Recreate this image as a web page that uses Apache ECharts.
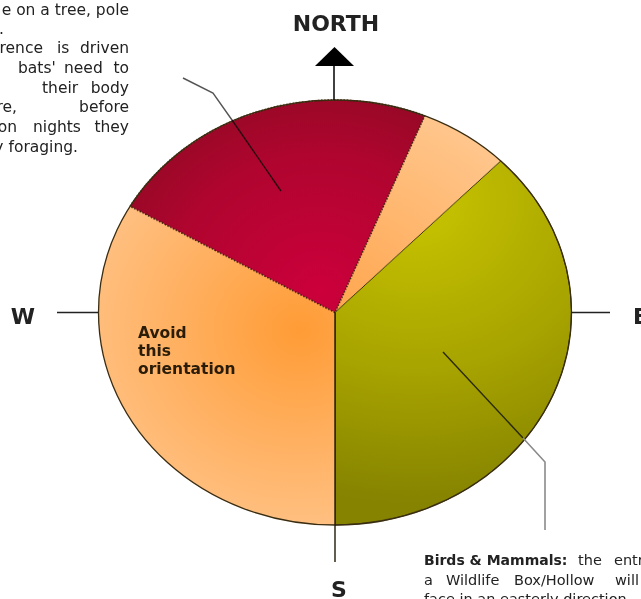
<!DOCTYPE html>
<html><head><meta charset="utf-8">
<script src="https://cdn.jsdelivr.net/npm/echarts@6/dist/echarts.min.js"></script>
<style>
html,body{margin:0;padding:0;background:#fff;overflow:hidden}
#wrap{position:relative;width:641px;height:599px;overflow:hidden}
#pie,#overlay{position:absolute;left:0;top:0;width:641px;height:599px}
#pie{transform-origin:0 312.5px;transform:scaleY(0.8985)}
</style></head>
<body><div id="wrap"><div id="pie"></div><div id="overlay"></div></div>
<script>
// Sectors of the compass (degrees of arc, clockwise from NNE boundary)
const sectorNames = ['NNE', 'East', 'South-West', 'North-West'];
const sectorDegrees = [22.2, 135.5, 120, 82.3];
const compassLabels = ['NORTH', 'E', 'S', 'W'];
const avoidText = 'Avoid\nthis\norientation';
const batNoteWords = [
  ['e on a tree, pole'],
  ['.'],
  ['rence', 'is', 'driven'],
  ["bats'", 'need', 'to'],
  ['their', 'body'],
  ['re,', 'before'],
  ['on', 'nights', 'they'],
  ['y foraging.']
];
const birdNoteLines = [
  ['Birds & Mammals:', 'the', 'entrance'],
  ['a', 'Wildlife', 'Box/Hollow', 'will'],
  ['face in an easterly direction']
];

const CX = 335, CY = 312.5, R = 236.5, RY = 212.5;
const SY = RY / R;
const py = y => CY + (y - CY) / SY; // screen y -> pie space y

const colors = [
  {type:'radial', x:CX, y:CY, r:R, global:true,
   colorStops:[{offset:0,color:'#ffa64e'},{offset:1,color:'#ffc68c'}]},
  {type:'radial', x:415, y:py(200), r:340, global:true,
   colorStops:[{offset:0,color:'#c9c500'},{offset:0.55,color:'#a8a400'},{offset:1,color:'#858300'}]},
  {type:'radial', x:300, y:py(330), r:250, global:true,
   colorStops:[{offset:0,color:'#ff9c36'},{offset:1,color:'#ffc58c'}]},
  {type:'radial', x:320, y:py(290), r:250, global:true,
   colorStops:[{offset:0,color:'#cc003c'},{offset:0.6,color:'#b0052f'},{offset:1,color:'#8e0a23'}]}
];
const borders = [
  {borderWidth:0},
  {borderWidth:1, borderColor:'#2e2a08', borderType:'solid'},
  {borderWidth:0},
  {borderWidth:1.6, borderColor:'#3c2208', borderType:'dotted'}
];

const pie = echarts.init(document.getElementById('pie'));
pie.setOption({
  animation:false,
  series:[{
    type:'pie', center:[CX, CY], radius:R, startAngle:90 - 22.3, clockwise:true,
    silent:true, label:{show:false}, labelLine:{show:false},
    data: sectorNames.map((n,i)=>({name:n, value:sectorDegrees[i],
      itemStyle:Object.assign({color:colors[i]}, borders[i])}))
  }]
});

const ov = echarts.init(document.getElementById('overlay'), null, {renderer:'svg'});
const g = [];
const line = (pts, color, w) => g.push({type:'polyline', shape:{points:pts}, style:{stroke:color, lineWidth:w||1.3, fill:null}, silent:true});
const txt = (s, x, y, font, align, color, extra) => g.push({type:'text', x, y, silent:true,
  style:Object.assign({text:s, font, align:align||'left', verticalAlign:'middle', fill:color||'#1e1e1e'}, extra||{})});

// pie outline
g.push({type:'ellipse', shape:{cx:CX, cy:CY, rx:R, ry:RY}, style:{fill:null, stroke:'#3a2c10', lineWidth:1.3}, silent:true});
// compass lines
line([[334, 100], [334, 65]], '#111', 1.6);
g.push({type:'polygon', shape:{points:[[315,66],[354,66],[334.5,47]]}, style:{fill:'#000'}, silent:true});
line([[57, 312.5], [98, 312.5]], '#222', 1.4);
line([[571, 312.5], [610, 312.5]], '#222', 1.4);
line([[335, 312.5], [335, 562]], '#1e1a08', 1.4);
// leader lines
line([[183, 78], [213, 93], [232, 120]], '#555', 1.4);
line([[232, 120], [281, 191]], '#2a0a10', 1.4);
line([[443, 352], [523, 438]], '#2a2a08', 1.4);
line([[523, 438], [545, 462], [545, 530]], '#8a8a8a', 1.6);

// compass texts
const bold22 = 'bold 22px "DejaVu Sans"';
txt(compassLabels[0], 336, 23, bold22, 'center', '#222');
txt(compassLabels[1], 633, 316, bold22, 'left', '#222');
txt(compassLabels[2], 339, 589, bold22, 'center', '#222');
txt(compassLabels[3], 23, 316, bold22, 'center', '#222');

// avoid text
g.push({type:'text', x:138, y:324, silent:true, style:{text:avoidText, font:'bold 15.5px "DejaVu Sans"', lineHeight:18, fill:'#2a1c08', align:'left', verticalAlign:'top'}});

// bat note (justified words, clipped at the left edge)
const noteFont = '15.5px "DejaVu Sans"';
const noteY = [10, 29, 48, 68, 88, 107, 127, 147];
const wordPos = [
  [[129,'right']],
  [[4,'right']],
  [[43,'right'],[57,'left'],[129,'right']],
  [[18,'left'],[64,'left'],[129,'right']],
  [[42,'left'],[129,'right']],
  [[17,'right'],[129,'right']],
  [[17,'right'],[33,'left'],[129,'right']],
  [[78,'right']]
];
batNoteWords.forEach((ws, i) => ws.forEach((w, j) => txt(w, wordPos[i][j][0], noteY[i], noteFont, wordPos[i][j][1], '#222')));

// bird note
const birdFont = '14.5px "DejaVu Sans"';
txt(birdNoteLines[0][0], 424, 560, 'bold 14px "DejaVu Sans"', 'left', '#222');
txt(birdNoteLines[0][1], 578, 560, birdFont, 'left', '#222');
txt(birdNoteLines[0][2], 614, 560, birdFont, 'left', '#222');
const row2x = [424, 446, 514, 615];
birdNoteLines[1].forEach((w, j) => txt(w, row2x[j], 579.5, birdFont, 'left', '#222'));
txt(birdNoteLines[2][0], 424, 599, birdFont, 'left', '#222');

ov.setOption({animation:false, graphic:g});
</script></body></html>
